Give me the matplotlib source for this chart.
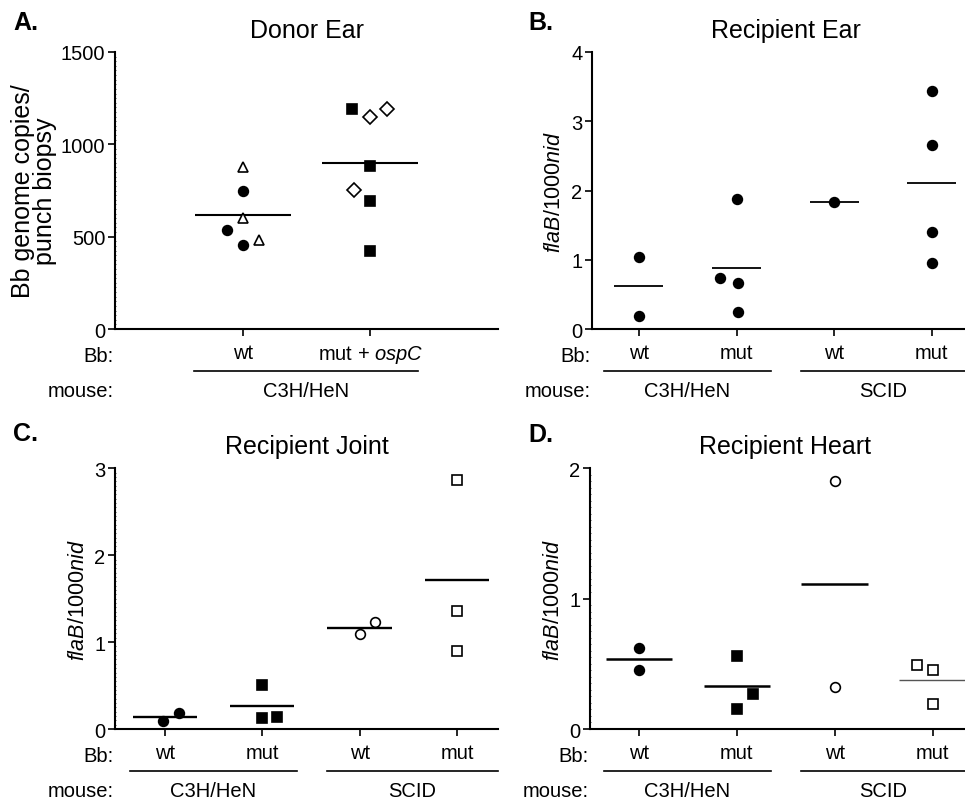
import matplotlib.pyplot as plt
import numpy as np
from matplotlib import transforms as mtransforms
from matplotlib.ticker import MultipleLocator

plt.rcParams['font.family'] = ['Liberation Sans', 'DejaVu Sans']
plt.rcParams['mathtext.fontset'] = 'custom'
plt.rcParams['mathtext.rm'] = 'Liberation Sans'
plt.rcParams['mathtext.it'] = 'Liberation Sans:italic'

# ---- data ----
# A. Donor Ear
a_groups = ['wt', 'mut + $\\mathit{ospC}$']
a_wt_circle = [749, 538, 457]
a_wt_triangle = [879, 601, 484]
a_mut_square = [1191, 884, 691, 421]
a_mut_diamond = [1150, 1191, 753]

# B. Recipient Ear (all filled circles)
bcd_groups = ['wt', 'mut', 'wt', 'mut']
b_c3h_wt = [1.04, 0.19]
b_c3h_mut = [1.88, 0.74, 0.66, 0.24]
b_scid_wt = [1.84]
b_scid_mut = [3.44, 2.66, 1.40, 0.96]

# C. Recipient Joint
c_c3h_wt = [0.09, 0.18]
c_c3h_mut = [0.51, 0.13, 0.14]
c_scid_wt = [1.09, 1.23]
c_scid_mut = [2.87, 1.36, 0.90]

# D. Recipient Heart
d_c3h_wt = [0.62, 0.45]
d_c3h_mut = [0.56, 0.27, 0.15]
d_scid_wt = [1.90, 0.32]
d_scid_mut = [0.49, 0.45, 0.19]

ylabel_fla = '$\\mathit{flaB}$/1000$\\mathit{nid}$'

FS = 14.5      # tick / row labels
FS_TITLE = 18


def px(x, y):
    return x / 965, 1 - y / 803


def draw_points(ax, g, vals, dx, marker, filled, ms=7):
    x = g + np.asarray(dx, dtype=float)
    ax.plot(x, vals, linestyle='none', marker=marker, ms=ms,
            mfc='black' if filled else 'white', mec='black',
            mew=1.2, clip_on=False, zorder=3)


def draw_mean(ax, g, vals, half, lw=1.6, color='black'):
    m = np.mean(vals)
    ax.plot([g - half, g + half], [m, m], color=color, lw=lw,
            solid_capstyle='butt', clip_on=False, zorder=2)


def style_axis(ax, groups, xlim, ylim, yticks, minor=None):
    ax.set_xlim(*xlim)
    ax.set_ylim(*ylim)
    ax.set_yticks(yticks)
    ax.set_xticks(range(len(groups)))
    ax.set_xticklabels(groups)
    for s in ['top', 'right']:
        ax.spines[s].set_visible(False)
    for s in ['left', 'bottom']:
        ax.spines[s].set_linewidth(1.5)
    ax.tick_params(axis='both', which='major', labelsize=FS, length=5,
                   width=1.2, direction='out')
    ax.tick_params(axis='x', pad=5)
    ax.tick_params(axis='y', pad=2)
    if minor:
        ax.yaxis.set_minor_locator(MultipleLocator(minor))
        ax.tick_params(axis='y', which='minor', length=2, width=0.5,
                       direction='inout')
    # row labels
    ax.annotate('Bb:', xy=(0, 0), xycoords='axes fraction', xytext=(-1, -19),
                textcoords='offset points', ha='right', va='center', fontsize=FS)
    ax.annotate('mouse:', xy=(0, 0), xycoords='axes fraction', xytext=(-1, -44),
                textcoords='offset points', ha='right', va='center', fontsize=FS)


def bracket(fig, ax, x0, x1, label):
    base = mtransforms.blended_transform_factory(ax.transData, ax.transAxes)
    tl = mtransforms.offset_copy(base, fig=fig, y=-30.5, units='points')
    tt = mtransforms.offset_copy(base, fig=fig, y=-44, units='points')
    ax.plot([x0, x1], [0, 0], color='black', lw=1.2, transform=tl, clip_on=False)
    ax.text((x0 + x1) / 2, 0, label, transform=tt, ha='center', va='center',
            fontsize=FS)


fig = plt.figure(figsize=(9.65, 8.03), dpi=100)

axA = fig.add_axes([0.1192, 0.589, 0.3969, 0.345])
axB = fig.add_axes([0.6135, 0.589, 0.3865, 0.345])
axC = fig.add_axes([0.1192, 0.0909, 0.3969, 0.3247])
axD = fig.add_axes([0.6114, 0.0909, 0.3886, 0.325])

# ---- A ----
draw_points(axA, 0, a_wt_circle, [0, -0.125, 0], 'o', True)
draw_points(axA, 0, a_wt_triangle, [0, 0, 0.13], '^', False, ms=6.5)
draw_points(axA, 1, a_mut_square, [-0.14, 0, 0, 0], 's', True, ms=7)
draw_points(axA, 1, a_mut_diamond, [0, 0.13, -0.13], 'D', False, ms=7)
draw_mean(axA, 0, a_wt_circle + a_wt_triangle, 0.375, lw=1.5)
draw_mean(axA, 1, a_mut_square + a_mut_diamond, 0.375, lw=1.5)
style_axis(axA, a_groups, (-1, 2), (0, 1500), [0, 500, 1000, 1500], minor=25)
axA.set_ylabel('Bb genome copies/\npunch biopsy', fontsize=18, labelpad=3,
               linespacing=0.85)
axA.set_title('Donor Ear', fontsize=FS_TITLE, pad=11)
bracket(fig, axA, -0.38, 1.37, 'C3H/HeN')

# ---- B ----
b_sets = [b_c3h_wt, b_c3h_mut, b_scid_wt, b_scid_mut]
b_dx = [[0, 0], [0, -0.17, 0.01, 0.01], [0], [0, 0, 0, 0]]
for g, (vals, dx) in enumerate(zip(b_sets, b_dx)):
    draw_points(axB, g, vals, dx, 'o', True)
    draw_mean(axB, g, vals, 0.25, lw=1.3)
style_axis(axB, bcd_groups, (-0.48, 3.34), (0, 4), [0, 1, 2, 3, 4])
axB.set_ylabel(ylabel_fla, fontsize=15.5, labelpad=4)
axB.set_title('Recipient Ear', fontsize=FS_TITLE, pad=11, x=0.52)
bracket(fig, axB, -0.36, 1.35, 'C3H/HeN')
bracket(fig, axB, 1.66, 3.34, 'SCID')

# ---- C ----
c_sets = [c_c3h_wt, c_c3h_mut, c_scid_wt, c_scid_mut]
c_dx = [[-0.02, 0.15], [0, 0, 0.15], [0, 0.16], [0, 0, 0]]
c_mark = [('o', True), ('s', True), ('o', False), ('s', False)]
for g, (vals, dx, (mk, fl)) in enumerate(zip(c_sets, c_dx, c_mark)):
    draw_points(axC, g, vals, dx, mk, fl)
    draw_mean(axC, g, vals, 0.33, lw=1.7)
style_axis(axC, bcd_groups, (-0.51, 3.42), (0, 3), [0, 1, 2, 3], minor=0.05)
axC.set_ylabel(ylabel_fla, fontsize=15.5, labelpad=4)
axC.set_title('Recipient Joint', fontsize=FS_TITLE, pad=11)
bracket(fig, axC, -0.36, 1.36, 'C3H/HeN')
bracket(fig, axC, 1.66, 3.42, 'SCID')

# ---- D ----
d_sets = [d_c3h_wt, d_c3h_mut, d_scid_wt, d_scid_mut]
d_dx = [[0, 0], [0, 0.16, 0], [0, 0], [-0.16, 0, 0]]
d_mark = [('o', True), ('s', True), ('o', False), ('s', False)]
d_mean_style = [(1.8, 'black'), (1.8, 'black'), (1.8, 'black'), (1.0, '#555555')]
for g, (vals, dx, (mk, fl), (lw, col)) in enumerate(zip(d_sets, d_dx, d_mark, d_mean_style)):
    draw_points(axD, g, vals, dx, mk, fl)
    draw_mean(axD, g, vals, 0.34, lw=lw, color=col)
style_axis(axD, bcd_groups, (-0.5, 3.33), (0, 2), [0, 1, 2], minor=0.05)
axD.set_ylabel(ylabel_fla, fontsize=15.5, labelpad=4)
axD.set_title('Recipient Heart', fontsize=FS_TITLE, pad=11, x=0.52)
bracket(fig, axD, -0.36, 1.35, 'C3H/HeN')
bracket(fig, axD, 1.65, 3.33, 'SCID')

# panel letters
for letter, (x, y) in [('A.', (13, 23)), ('B.', (528, 23)),
                       ('C.', (13, 434)), ('D.', (528, 435))]:
    fx, fy = px(x, y)
    fig.text(fx, fy, letter, fontsize=18, fontweight='bold', ha='left', va='center')

fig.savefig('out.png', dpi=100)
plt.close(fig)
